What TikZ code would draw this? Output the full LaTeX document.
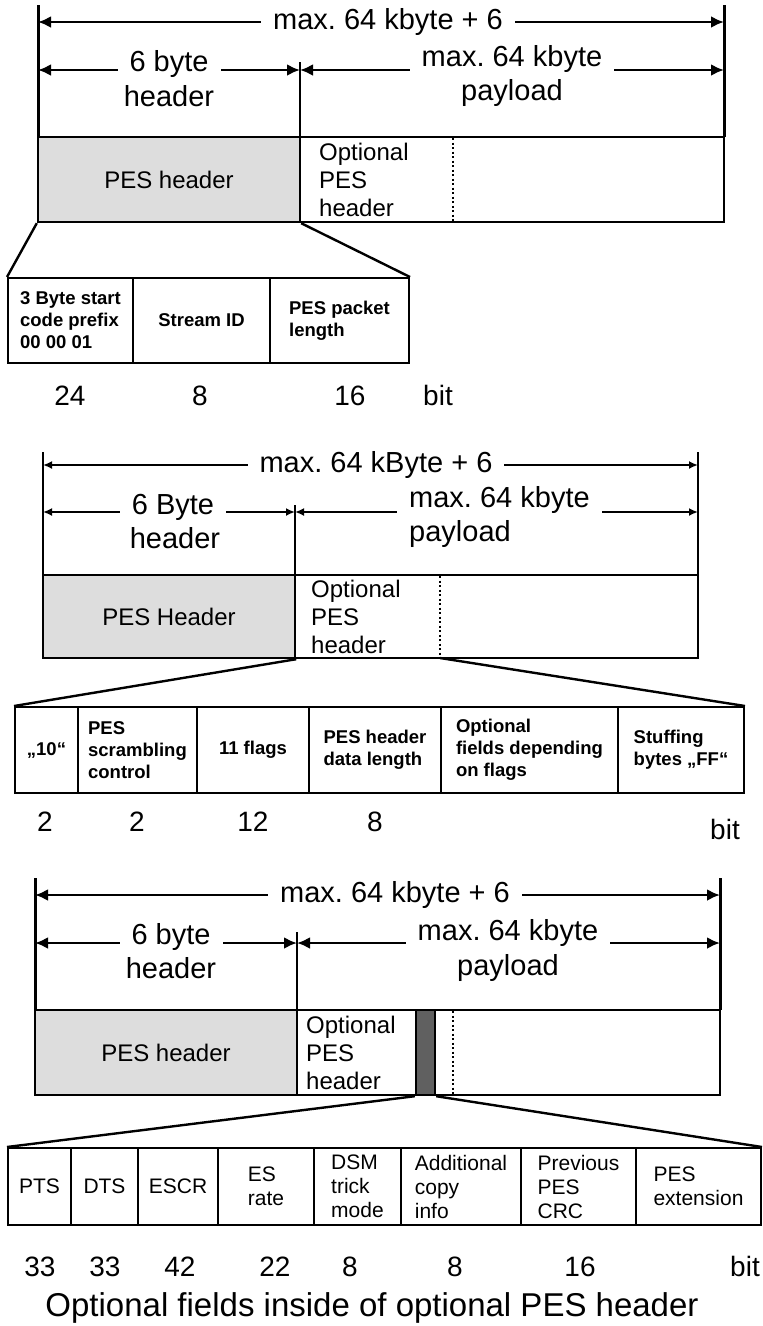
\documentclass[tikz,border=0pt]{standalone}
\usepackage{fontspec}
\setmainfont{Liberation Sans}
\usetikzlibrary{arrows.meta}
\definecolor{hdrgray}{RGB}{221,221,221}
\definecolor{bargray}{RGB}{96,96,96}
\newcommand{\dimfont}{\fontsize{29}{35}\selectfont}
\newcommand{\boxfont}{\fontsize{24}{28}\selectfont}
\newcommand{\fieldfont}{\fontsize{18.5}{22}\selectfont\bfseries}
\newcommand{\optfont}{\fontsize{21}{24}\selectfont}
\newcommand{\bitfont}{\fontsize{28}{32}\selectfont}
\tikzset{
  dimarrow/.style={<->, line width=2.7pt},
  thinarrow/.style={{Latex[length=9pt,width=8pt]}-{Latex[length=9pt,width=8pt]}, line width=2pt},
  dimlbl/.style={fill=white, inner xsep=12pt, inner ysep=0pt, font=\dimfont, anchor=base},
  sublbl/.style={inner xsep=12pt, inner ysep=0pt, font=\dimfont, anchor=base},
  hdrbox/.style={draw, rectangle, fill=hdrgray, font=\boxfont},
  paybox/.style={draw, rectangle},
  optlbl/.style={anchor=west, align=left, font=\boxfont, inner sep=0pt},
  field/.style={draw, rectangle, align=left, inner sep=1pt, line width=2pt, font=\fieldfont},
  cfield/.style={field, font=\optfont},
  bitlbl/.style={font=\bitfont, anchor=base},
  sepline/.style={line width=2pt, dash pattern=on 2pt off 2.5pt},
}
\begin{document}
\frenchspacing
\begin{tikzpicture}[>={Latex[length=13pt,width=12pt]}, x=1pt, y=-1pt, line width=2.4pt]
\useasboundingbox (0,0) rectangle (763,1326);

% first packet: 6 byte header
\draw[line width=3pt] (38,5) -- (38,137);
\draw[line width=3pt] (724,5) -- (724,137);
\draw (300,62) -- (300,137);
\coordinate (aL) at (38,22);
\coordinate (aR) at (724,22);
\coordinate (aHL) at (38,70);
\coordinate (aHM) at (300,70);
\coordinate (aHR) at (724,70);
\draw[dimarrow] (aL) -- (aR);
\draw[dimarrow] (aHL) -- (aHM);
\draw[dimarrow] (aHM) -- (aHR);
\node[dimlbl] (aTot) at (388,29) {max. 64 kbyte + 6};
\node[dimlbl] (aHdr) at (169,71) {6 byte};
\node[sublbl] (aHdr2) at (169,106) {header};
\node[dimlbl] (aPay) at (512,66) {max. 64 kbyte};
\node[sublbl] (aPay2) at (512,100) {payload};
\node[hdrbox, minimum width=262pt, minimum height=85pt] (aHead) at (169,179.5) {PES header};
\node[paybox, minimum width=424pt, minimum height=85pt] (aBody) at (512,179.5) {};
\node[optlbl] (aOpt) at (318,179.5) {Optional\\PES\\header};
\draw[sepline] (453,138) -- (453,221);
\node[field, minimum width=125pt, minimum height=85pt] (aF1) at (70.5,320.5) {3 Byte start\\code prefix\\00 00 01};
\node[field, minimum width=137pt, minimum height=85pt] (aF2) at (201.5,320.5) {Stream ID};
\node[field, minimum width=139pt, minimum height=85pt] (aF3) at (339.5,320.5) {PES packet\\length};
\draw (aHead.south west) -- (aF1.north west);
\draw (aHead.south east) -- (aF3.north east);
\node[bitlbl] (aB1) at (70,405) {24};
\node[bitlbl] (aB2) at (200,405) {8};
\node[bitlbl] (aB3) at (350,405) {16};
\node[bitlbl] (aB4) at (438,405) {bit};

% second packet: header fields
\draw (43,452) -- (43,575);
\draw (698,452) -- (698,575);
\draw (295,505) -- (295,575);
\coordinate (bL) at (43,465);
\coordinate (bR) at (698,465);
\coordinate (bHL) at (43,512);
\coordinate (bHM) at (295,512);
\coordinate (bHR) at (698,512);
\draw[thinarrow] (bL) -- (bR);
\draw[thinarrow] (bHL) -- (bHM);
\draw[thinarrow] (bHM) -- (bHR);
\node[dimlbl] (bTot) at (376,472) {max. 64 kByte + 6};
\node[dimlbl] (bHdr) at (173,514) {6 Byte};
\node[sublbl] (bHdr2) at (175,548) {header};
\node[dimlbl, anchor=base west] (bPay) at (396,507) {max. 64 kbyte};
\node[sublbl, anchor=base west] (bPay2) at (396,541) {payload};
\node[hdrbox, minimum width=252pt, minimum height=83pt] (bHead) at (169,616.5) {PES Header};
\node[paybox, minimum width=403pt, minimum height=83pt] (bBody) at (496.5,616.5) {};
\node[optlbl] (bOpt) at (310,616.5) {Optional\\PES\\header};
\draw[sepline] (440,576) -- (440,657);
\coordinate (bDot) at (440,658);
\node[field, minimum width=63pt, minimum height=86pt] (bF1) at (46.5,750) {„10“};
\node[field, minimum width=119pt, minimum height=86pt] (bF2) at (137.5,750) {PES\\scrambling\\control};
\node[field, minimum width=112pt, minimum height=86pt] (bF3) at (253,750) {11 flags};
\node[field, minimum width=132pt, minimum height=86pt] (bF4) at (375,750) {PES header\\data length};
\node[field, minimum width=177pt, minimum height=86pt] (bF5) at (529.5,750) {Optional\\fields depending\\on flags};
\node[field, minimum width=126pt, minimum height=86pt] (bF6) at (681,750) {Stuffing\\bytes „FF“};
\draw (bHead.south east) -- (bF1.north west);
\draw (bDot) -- (bF6.north east);
\node[bitlbl] (bB1) at (45,831) {2};
\node[bitlbl] (bB2) at (137,831) {2};
\node[bitlbl] (bB3) at (253,831) {12};
\node[bitlbl] (bB4) at (375,831) {8};
\node[bitlbl] (bB5) at (725,839) {bit};

% third packet: optional fields
\draw[line width=3pt] (35,878) -- (35,1010);
\draw[line width=3pt] (720,878) -- (720,1010);
\draw (297,932) -- (297,1010);
\coordinate (cL) at (35,895);
\coordinate (cR) at (720,895);
\coordinate (cHL) at (35,943);
\coordinate (cHM) at (297,943);
\coordinate (cHR) at (720,943);
\draw[dimarrow] (cL) -- (cR);
\draw[dimarrow] (cHL) -- (cHM);
\draw[dimarrow] (cHM) -- (cHR);
\node[dimlbl] (cTot) at (395,902) {max. 64 kbyte + 6};
\node[dimlbl] (cHdr) at (171,944) {6 byte};
\node[sublbl] (cHdr2) at (171,978) {header};
\node[dimlbl] (cPay) at (508,940) {max. 64 kbyte};
\node[sublbl] (cPay2) at (508,975) {payload};
\node[hdrbox, minimum width=262pt, minimum height=85pt] (cHead) at (166,1052.5) {PES header};
\node[paybox, minimum width=423pt, minimum height=85pt] (cBody) at (508.5,1052.5) {};
\node[optlbl] (cOpt) at (305,1052.5) {Optional\\PES\\header};
\node[draw, rectangle, fill=bargray, minimum width=19pt, minimum height=85pt] (cBar) at (425.5,1052.5) {};
\draw[sepline] (453,1011) -- (453,1094);
\node[cfield, minimum width=63pt, minimum height=77pt] (cF1) at (39.5,1186.5) {PTS};
\node[cfield, minimum width=67pt, minimum height=77pt] (cF2) at (104.5,1186.5) {DTS};
\node[cfield, minimum width=80pt, minimum height=77pt] (cF3) at (178,1186.5) {ESCR};
\node[cfield, minimum width=96pt, minimum height=77pt] (cF4) at (266,1186.5) {ES\\rate};
\node[cfield, minimum width=87pt, minimum height=77pt] (cF5) at (357.5,1186.5) {DSM\\trick\\mode};
\node[cfield, minimum width=120pt, minimum height=77pt] (cF6) at (461,1186.5) {Additional\\copy\\info};
\node[cfield, minimum width=115pt, minimum height=77pt] (cF7) at (578.5,1186.5) {Previous\\PES\\CRC};
\node[cfield, minimum width=125pt, minimum height=77pt] (cF8) at (698.5,1186.5) {PES\\extension};
\draw (cBar.south west) -- (cF1.north west);
\draw (cBar.south east) -- (cF8.north east);
\node[bitlbl] (cB1) at (40,1276) {33};
\node[bitlbl] (cB2) at (105,1276) {33};
\node[bitlbl] (cB3) at (180,1276) {42};
\node[bitlbl] (cB4) at (275,1276) {22};
\node[bitlbl] (cB5) at (350,1276) {8};
\node[bitlbl] (cB6) at (455,1276) {8};
\node[bitlbl] (cB7) at (580,1276) {16};
\node[bitlbl] (cB8) at (745,1276) {bit};
\node[bitlbl, font=\fontsize{33}{36}\selectfont] (cCap) at (372,1316) {Optional fields inside of optional PES header};
\end{tikzpicture}
\end{document}
